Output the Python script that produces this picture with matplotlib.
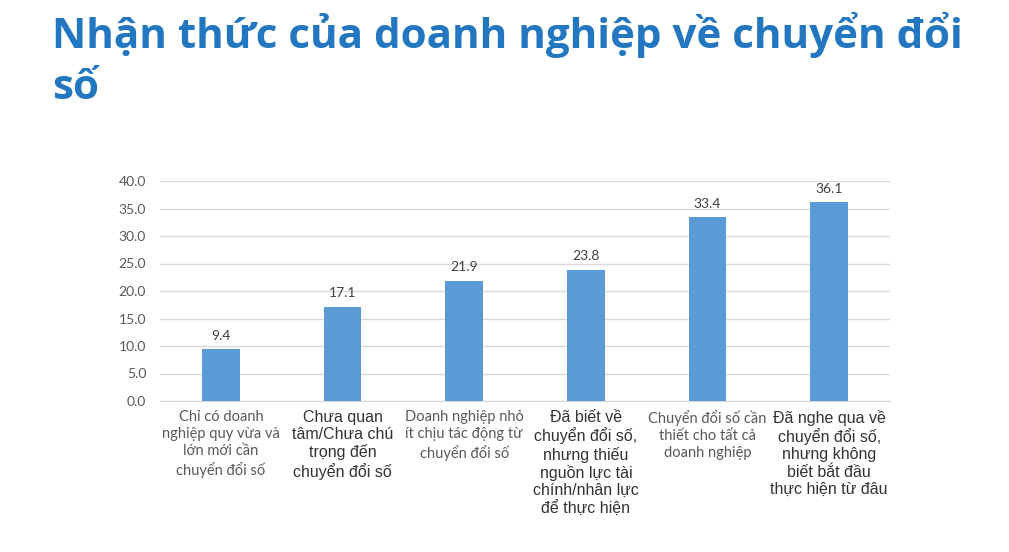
import matplotlib.pyplot as plt

categories = [
    "Chỉ có doanh\nnghiệp quy vừa và\nlớn mới cần\nchuyển đổi số",
    "Chưa quan\ntâm/Chưa chú\ntrọng đến\nchuyển đổi số",
    "Doanh nghiệp nhỏ\nít chịu tác động từ\nchuyển đổi số",
    "Đã biết về\nchuyển đổi số,\nnhưng thiếu\nnguồn lực tài\nchính/nhân lực\nđể thực hiện",
    "Chuyển đổi số cần\nthiết cho tất cả\ndoanh nghiệp",
    "Đã nghe qua về\nchuyển đổi số,\nnhưng không\nbiết bắt đầu\nthực hiện từ đâu",
]
values = [9.4, 17.1, 21.9, 23.8, 33.4, 36.1]
label_fonts = ["Lato", "Liberation Sans", "Lato", "Liberation Sans", "Lato", "Liberation Sans"]
yticks = [0, 5, 10, 15, 20, 25, 30, 35, 40]

fig = plt.figure(figsize=(10.09, 5.52), dpi=100)
fig.patch.set_facecolor("white")

fig.text(0.052, 0.978, "Nhận thức của doanh nghiệp về chuyển đổi\nsố",
         ha="left", va="top", fontsize=30.3, fontweight="bold",
         color="#2277c0", family="Open Sans", linespacing=1.3)

ax = fig.add_axes([160 / 1009, 1 - 401 / 552, 730 / 1009, 220 / 552])
x = range(len(values))
bars = ax.bar(x, values, width=0.31, color="#5b9bd5", zorder=3)

for xi, v in zip(x, values):
    ax.text(xi, v + 1.4, f"{v:.1f}", ha="center", va="bottom",
            fontsize=10, color="#404040", family="Lato")

ax.set_xlim(-0.5, len(values) - 0.5)
ax.set_ylim(0, 40)
ax.set_yticks(yticks)
ax.set_yticklabels([f"{t:.1f}" for t in yticks], family="Lato", fontsize=10, color="#595959")
ax.yaxis.grid(True, color="#d9d9d9", linewidth=1, zorder=0)
ax.tick_params(axis="y", length=0, pad=10)
ax.tick_params(axis="x", length=0)
ax.set_xticks(list(x))
ax.set_xticklabels([])
for s in ["top", "right", "left"]:
    ax.spines[s].set_visible(False)
ax.spines["bottom"].set_color("#d9d9d9")

for xi, lab, fam in zip(x, categories, label_fonts):
    if fam == "Lato":
        col, fs, ls = "#595959", 10.5, 1.3
    else:
        col, fs, ls = "#333333", 11.5, 1.18
    ax.text(xi, -1.6, lab, ha="center", va="top", fontsize=fs,
            family=fam, color=col, linespacing=ls,
            transform=ax.transData)

fig.savefig("out.png", dpi=100)
